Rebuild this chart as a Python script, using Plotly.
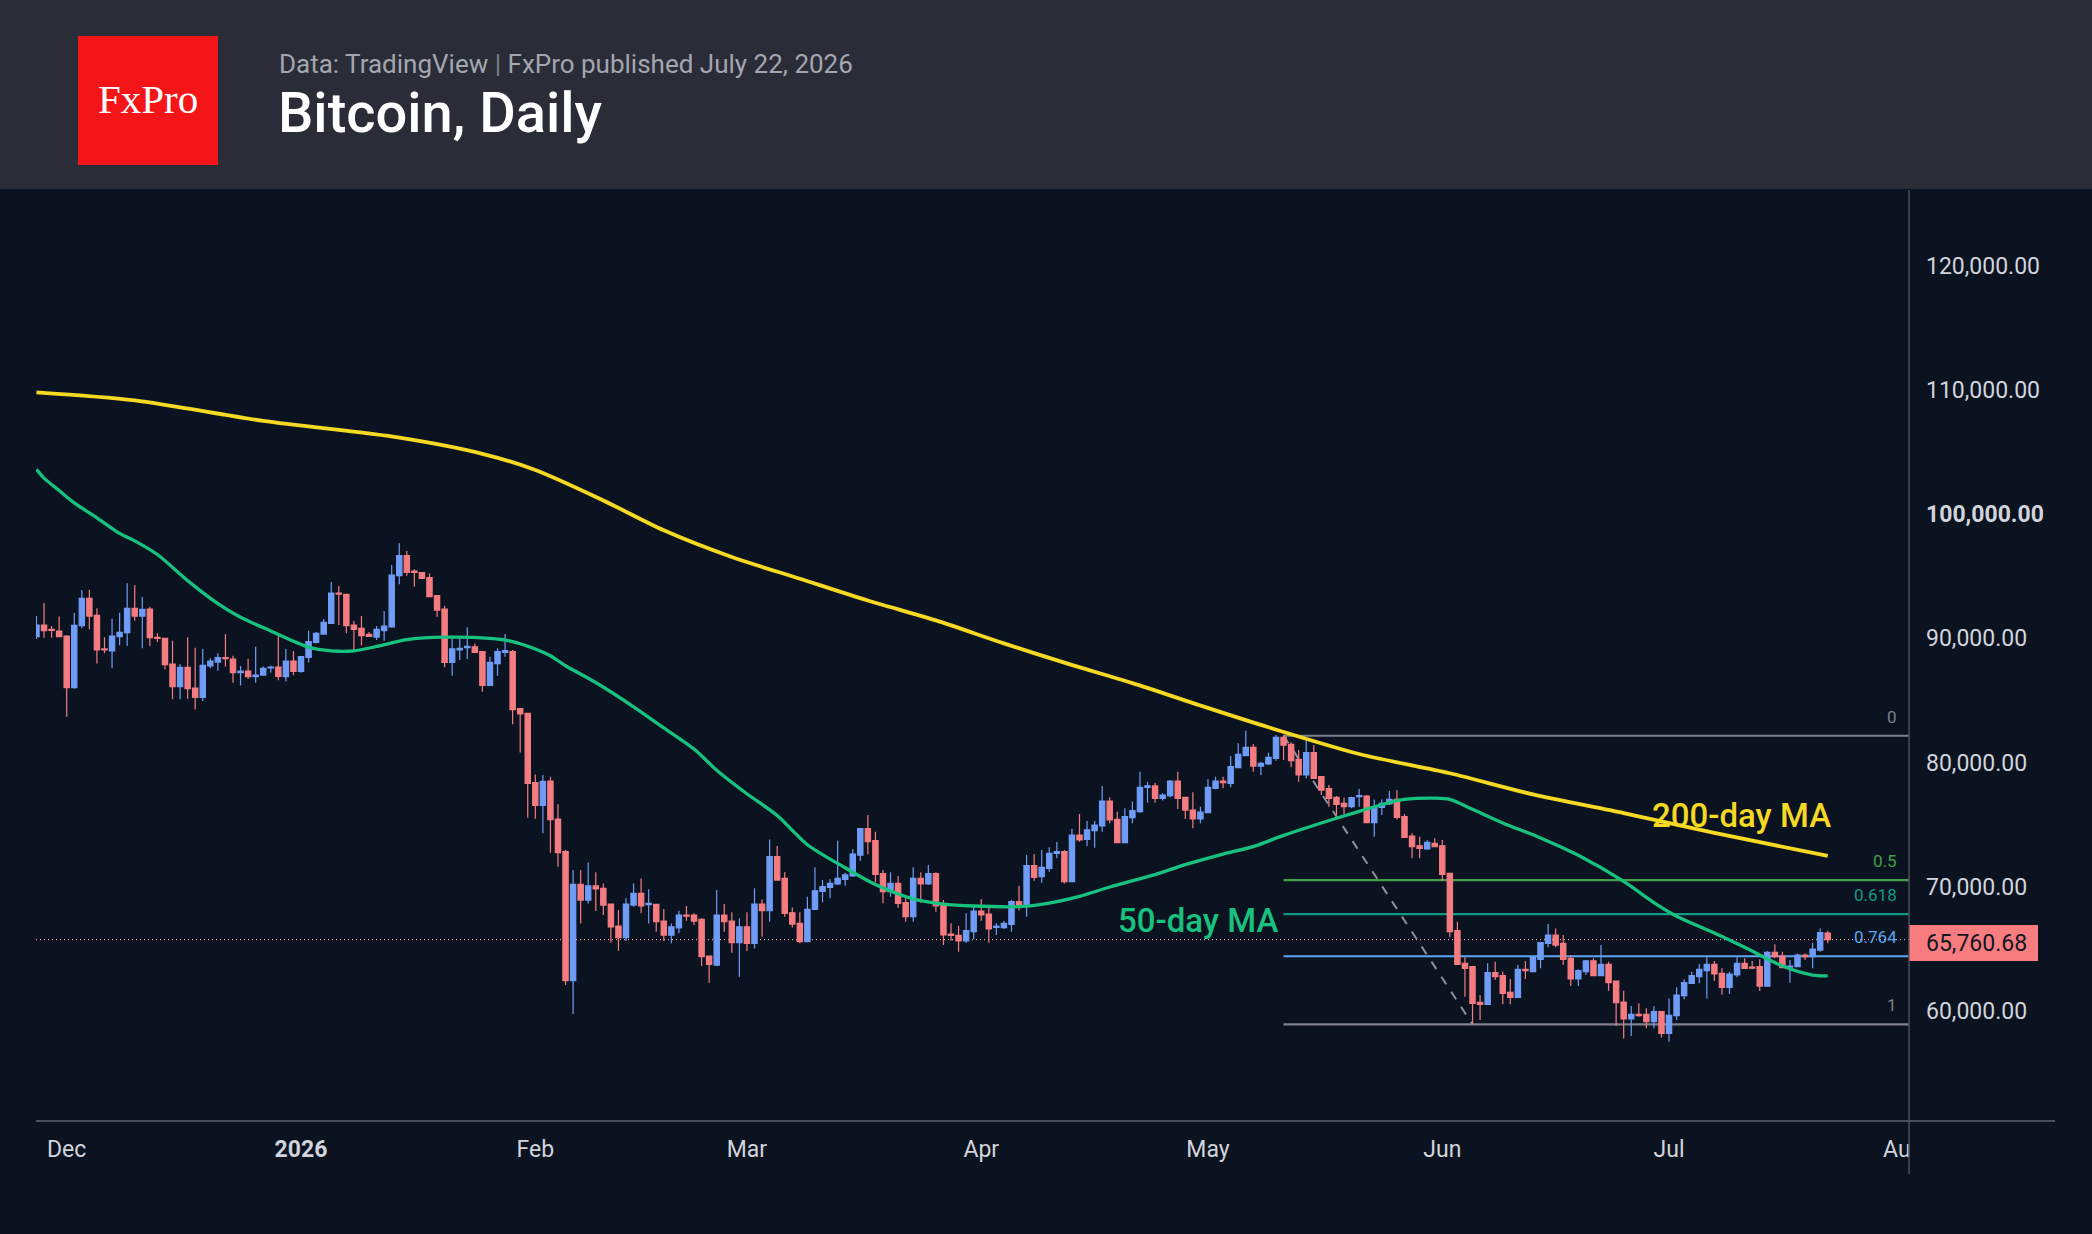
import plotly.graph_objects as go
import pandas as pd

# ---------------- data ----------------
first_day = "2025-11-27"

open_ = [
    90140, 91080, 90730, 90590, 90190, 86040, 91020, 93220, 91850, 89150,
    88990, 90140, 90460, 92420, 91800, 92360, 90090, 90000, 87940, 86120,
    87670, 86010, 85260, 87780, 88100, 88450, 88340, 87240, 87380, 86920,
    87050, 87620, 87700, 86920, 88180, 87350, 88480, 89680, 90350, 91210,
    93650, 93540, 91080, 90810, 90330, 90110, 90620, 90920, 95050, 96660,
    95420, 95290, 94890, 93440, 92360, 88070, 89070, 89250, 89330, 88930,
    86220, 87970, 88880, 88930, 84350, 83970, 78390, 76570, 78530, 75470,
    72840, 62460, 70210, 68950, 70100, 69890, 68630, 66860, 65920, 68550,
    69490, 68580, 68600, 67260, 66130, 66720, 67740, 67740, 67400, 64450,
    63720, 67740, 67260, 65520, 66800, 65470, 68630, 68090, 72440, 70700,
    67930, 67080, 65600, 68200, 69650, 69970, 70240, 70620, 70890, 72570,
    74690, 73730, 71070, 69620, 70290, 68740, 67610, 70700, 70240, 71070,
    68520, 66220, 66110, 65660, 66410, 68070, 67830, 66750, 66730, 67000,
    68820, 68550, 71720, 70830, 71500, 72710, 72840, 70430, 74180, 73830,
    74530, 74910, 76920, 75440, 73570, 75580, 76060, 78020, 78130, 77130,
    77350, 78530, 77210, 76190, 75470, 75980, 77940, 78530, 78340, 79600,
    80570, 81240, 79730, 79900, 80350, 82040, 81480, 80270, 79010, 80810,
    78880, 77910, 77210, 76730, 76460, 77270, 77320, 75180, 76410, 76680,
    77050, 75660, 74100, 73320, 73060, 73510, 73320, 71100, 66490, 63860,
    63590, 60720, 60560, 63110, 62870, 61530, 61120, 63380, 63190, 64180,
    65470, 66140, 65470, 64260, 62600, 63190, 64050, 62870, 63780, 62440,
    60750, 59380, 59760, 59760, 59170, 59970, 58230, 59650, 61260, 62250,
    62790, 63270, 63780, 63050, 61930, 62920, 63860, 63560, 63590, 62030,
    64740, 64450, 63560, 63590, 64530, 64400, 64930, 66300,
]
high = [
    91800, 92850, 91000, 91770, 90250, 92040, 93890, 93920, 92420, 90090,
    91590, 92070, 94430, 94300, 93330, 92550, 90410, 90060, 89820, 87940,
    90090, 89250, 89150, 88400, 88800, 90330, 88610, 87780, 88370, 89330,
    87730, 87830, 90190, 89150, 88990, 88580, 90620, 90510, 91560, 94540,
    94220, 93540, 91400, 91800, 90510, 91000, 92200, 95910, 97650, 97030,
    95560, 95340, 95230, 93440, 92630, 90190, 90090, 90890, 89600, 88930,
    88530, 89200, 90350, 89070, 84350, 83970, 79060, 79010, 78870, 76650,
    72970, 71360, 71360, 71980, 71180, 70290, 68630, 68150, 69090, 70290,
    70690, 69810, 68600, 68230, 67070, 68090, 68470, 67880, 67480, 64450,
    69760, 68630, 67960, 67480, 67960, 69890, 69000, 73830, 73300, 71180,
    68360, 67960, 69220, 71580, 70560, 70620, 73730, 71150, 73030, 74690,
    75790, 74450, 71370, 71180, 70880, 69330, 71580, 71180, 71770, 71180,
    68950, 67080, 66890, 67880, 68360, 69030, 68470, 67080, 67290, 68950,
    70110, 72570, 72650, 72980, 73190, 73620, 72980, 74690, 75870, 75310,
    75310, 78130, 77210, 76060, 76330, 76870, 79280, 78470, 78390, 77540,
    78610, 79280, 77210, 77620, 76460, 78660, 78880, 78880, 80540, 81560,
    82580, 81500, 80080, 80810, 82230, 82230, 81640, 81020, 81770, 81420,
    78930, 78210, 77320, 77190, 77270, 77880, 77400, 77050, 77050, 77750,
    77800, 75870, 74320, 74050, 73780, 73920, 73780, 71100, 67210, 64340,
    63590, 61310, 63860, 63990, 63190, 62600, 63720, 64050, 64340, 65520,
    67020, 66670, 66140, 64530, 63380, 64130, 64260, 65330, 63990, 62440,
    61660, 60430, 60640, 60240, 60430, 59970, 61040, 61930, 62570, 63190,
    63810, 64340, 64050, 63460, 63190, 64340, 64260, 64050, 64180, 64850,
    65390, 64800, 64130, 64660, 64660, 65520, 66670, 66490,
]
low = [
    89950, 90060, 90060, 90110, 83700, 85950, 90810, 90730, 87990, 88800,
    87590, 89440, 89390, 91430, 89200, 89390, 89710, 87510, 85100, 85100,
    85150, 84290, 84960, 87590, 87400, 87730, 86440, 86220, 86730, 86440,
    87000, 87240, 86630, 86540, 87030, 87240, 88070, 89600, 90300, 91210,
    91080, 90410, 89070, 89440, 90140, 89870, 89820, 90860, 94350, 95050,
    94160, 94780, 93360, 91750, 87670, 87000, 88260, 88340, 88820, 85710,
    86220, 87000, 88530, 83090, 80830, 75580, 75500, 74320, 72760, 71630,
    62110, 59780, 67070, 68680, 68070, 67740, 65520, 64870, 65650, 68410,
    67880, 67070, 66400, 65650, 65470, 66270, 67290, 66940, 63640, 62300,
    63640, 66400, 64710, 62780, 64850, 65060, 66000, 67210, 70560, 67610,
    66750, 65470, 65600, 68150, 68770, 69090, 70160, 70110, 70830, 72090,
    72630, 70380, 68690, 69220, 68340, 67210, 67210, 68740, 70160, 68010,
    65330, 65680, 64800, 65520, 65790, 67290, 65520, 66140, 66620, 66410,
    68100, 67610, 70510, 70350, 71230, 72310, 70290, 70430, 73650, 73300,
    73160, 74450, 75120, 73570, 73570, 75120, 75980, 76780, 76780, 76950,
    77210, 76270, 75470, 74720, 75120, 75980, 77860, 77940, 78020, 79600,
    80570, 79280, 79010, 79820, 80160, 80220, 79630, 78470, 78740, 78740,
    77400, 76460, 75790, 75870, 76330, 76460, 75120, 74050, 75790, 76600,
    75440, 74000, 72310, 72310, 72980, 73190, 70480, 65950, 63780, 61170,
    58950, 59300, 60500, 62520, 60560, 60560, 61120, 62600, 63190, 63460,
    65150, 65150, 63720, 62030, 62030, 62920, 62870, 62870, 61660, 58820,
    57820, 58010, 59570, 58630, 58630, 57900, 57560, 59300, 60960, 62200,
    62250, 61040, 62440, 61360, 61390, 62730, 63400, 63380, 61630, 61980,
    64260, 63460, 62300, 63590, 64130, 63460, 64800, 65470,
]
close = [
    91080, 90620, 90650, 90140, 86040, 91050, 93220, 91800, 89070, 89070,
    90190, 90490, 92420, 91800, 92340, 90060, 90000, 87890, 86120, 87670,
    85950, 85260, 87830, 88180, 88450, 88370, 87240, 87380, 86920, 87050,
    87590, 87700, 86950, 88180, 87350, 88530, 89740, 90410, 91290, 93650,
    93570, 91020, 90730, 90220, 90170, 90730, 91000, 95100, 96660, 95310,
    95310, 94830, 93360, 92280, 88070, 89150, 89200, 89360, 88880, 86220,
    88070, 88930, 89010, 84270, 83920, 78340, 76570, 78500, 75420, 72760,
    62460, 70210, 68950, 70100, 69840, 68550, 66800, 65920, 68630, 69490,
    68490, 68680, 67210, 66130, 66800, 67740, 67660, 67260, 64390, 63770,
    67740, 67210, 65520, 66800, 65470, 68630, 68090, 72440, 70560, 67880,
    67020, 65600, 68200, 69700, 70030, 70290, 70700, 70970, 72650, 74690,
    73650, 71020, 69620, 70290, 68690, 67610, 70700, 70240, 71070, 68470,
    66140, 66110, 65660, 66490, 68070, 67750, 66620, 66860, 67080, 68820,
    68500, 71720, 70780, 71580, 72710, 72840, 70430, 74180, 73780, 74590,
    74990, 76920, 75390, 73570, 75660, 76140, 78020, 78130, 77130, 77400,
    78530, 77130, 76190, 75470, 76030, 78020, 78530, 78390, 79680, 80670,
    81240, 79730, 79950, 80430, 82040, 81420, 80160, 79010, 80810, 78740,
    77800, 77130, 76650, 76460, 77190, 77350, 75180, 76460, 76730, 77050,
    75600, 74000, 73240, 73110, 73590, 73240, 71020, 66410, 63780, 63450,
    60640, 60560, 63110, 62790, 61440, 61120, 63380, 63270, 64340, 65520,
    66140, 65330, 64180, 62600, 63270, 64050, 62870, 63780, 62300, 60690,
    59380, 59760, 59650, 59170, 59970, 58230, 59670, 61310, 62300, 62870,
    63380, 63780, 63000, 61930, 63000, 63860, 63460, 63480, 62030, 64740,
    64400, 63510, 63640, 64530, 64400, 65010, 66330, 65760.68,
]

ma200_dates = [
    "2025-11-27", "2025-12-10", "2025-12-27", "2026-01-14", "2026-01-25",
    "2026-02-01", "2026-02-10", "2026-02-18", "2026-02-27", "2026-03-08",
    "2026-03-17", "2026-03-26", "2026-04-04", "2026-04-12", "2026-04-21",
    "2026-04-30", "2026-05-09", "2026-05-21", "2026-06-02", "2026-06-13",
    "2026-06-25", "2026-07-07", "2026-07-22",
]
ma200_values = [
    109800, 109150, 107500, 106150, 104850,
    103550, 101100, 98700, 96550, 94800,
    93050, 91450, 89600, 88050, 86400,
    84600, 82850, 80700, 79150, 77450,
    75950, 74350, 72500,
]

ma50_dates = [
    "2025-11-27", "2025-11-28", "2025-11-30", "2025-12-02", "2025-12-05",
    "2025-12-08", "2025-12-10", "2025-12-13", "2025-12-17", "2025-12-21",
    "2025-12-24", "2025-12-28", "2026-01-02", "2026-01-05", "2026-01-08",
    "2026-01-11", "2026-01-15", "2026-01-20", "2026-01-26", "2026-01-29",
    "2026-02-01", "2026-02-03", "2026-02-05", "2026-02-09", "2026-02-14",
    "2026-02-18", "2026-02-22", "2026-02-25", "2026-03-01", "2026-03-05",
    "2026-03-09", "2026-03-14", "2026-03-18", "2026-03-23", "2026-03-27",
    "2026-03-31", "2026-04-06", "2026-04-09", "2026-04-14", "2026-04-18",
    "2026-04-24", "2026-04-28", "2026-05-03", "2026-05-07", "2026-05-11",
    "2026-05-16", "2026-05-20", "2026-05-25", "2026-05-27", "2026-05-31",
    "2026-06-02", "2026-06-05", "2026-06-09", "2026-06-14", "2026-06-19",
    "2026-06-25", "2026-06-29", "2026-07-02", "2026-07-07", "2026-07-11",
    "2026-07-16", "2026-07-20", "2026-07-22",
]
ma50_values = [
    103600, 102900, 101900, 100900, 99700,
    98450, 97850, 96750, 94650, 92800,
    91700, 90600, 89300, 89000, 89000,
    89350, 89900, 90100, 90000, 89750,
    89150, 88600, 87800, 86450, 84500,
    82800, 81100, 79400, 77500, 75750,
    73400, 71550, 70200, 69050, 68630,
    68470, 68420, 68600, 69250, 70000,
    71000, 71800, 72650, 73250, 74150,
    75150, 75900, 76800, 77050, 77150,
    77050, 76250, 75150, 73950, 72550,
    70450, 68750, 67650, 66300, 65150,
    63650, 62920, 62850,
]

fib_levels = [0, 0.5, 0.618, 0.764, 1]
fib_labels = ["0", "0.5", "0.618", "0.764", "1"]
fib_colors = ["#7e818b", "#43a047", "#109a84", "#5da5f2", "#7e818b"]
fib_high = 82170
fib_low = 58950
fib_start = "2026-05-11"
fib_end_anchor = "2026-06-05"

last_price = 65760.68

month_ticks = ["2025-12-01", "2026-01-01", "2026-02-01", "2026-03-01", "2026-04-01",
               "2026-05-01", "2026-06-01", "2026-07-01", "2026-08-01"]
month_labels = ["Dec", "<b>2026</b>", "Feb", "Mar", "Apr", "May", "Jun", "Jul", "Aug"]

price_ticks = [60000, 70000, 80000, 90000, 100000, 110000, 120000]
price_labels = ["<b>{:,.2f}</b>".format(v) if v == 100000 else "{:,.2f}".format(v) for v in price_ticks]

# ---------------- layout geometry ----------------
W, H = 2092, 1234
LM, RM, TM, BM = 36, 183, 190, 113
PW = W - LM - RM
PH = H - TM - BM


def px(x):
    return (x - LM) / PW


def py(y):
    return (H - BM - y) / PH


BG = "#0c1320"
HEADER = "#2a2c38"
UP = "#6f9cf6"
DOWN = "#f47c80"
YELLOW = "#f5d922"
GREEN = "#16c27e"
AXIS_TXT = "#d1d4dc"
FONT = "Roboto"

dates = pd.date_range(first_day, periods=len(close), freq="D")
x_range = ["2025-11-26 22:30", "2026-08-01 18:00"]
y_range = [51175, 126075]

fig = go.Figure()

fig.add_trace(go.Candlestick(
    x=dates, open=open_, high=high, low=low, close=close,
    increasing=dict(line=dict(color=UP, width=1.2), fillcolor=UP),
    decreasing=dict(line=dict(color=DOWN, width=1.2), fillcolor=DOWN),
    whiskerwidth=0, showlegend=False, hoverinfo="skip",
))

fig.add_trace(go.Scatter(
    x=ma50_dates, y=ma50_values, mode="lines",
    line=dict(color=GREEN, width=3.3, shape="spline", smoothing=0.8),
    showlegend=False, hoverinfo="skip",
))
fig.add_trace(go.Scatter(
    x=ma200_dates, y=ma200_values, mode="lines",
    line=dict(color=YELLOW, width=3.8, shape="spline", smoothing=0.8),
    showlegend=False, hoverinfo="skip",
))

shapes = []
# header band
shapes.append(dict(type="rect", xref="paper", yref="paper", x0=px(0), x1=px(W),
                   y0=py(189), y1=py(0), fillcolor=HEADER, line_width=0, layer="below"))
# logo box
shapes.append(dict(type="rect", xref="paper", yref="paper", x0=px(78), x1=px(218),
                   y0=py(165), y1=py(36), fillcolor="#f41519", line_width=0, layer="below"))

# last price dotted line
shapes.append(dict(type="line", xref="paper", yref="y", x0=0, x1=1, y0=last_price, y1=last_price,
                   line=dict(color="#f79ea2", width=1.3, dash="1px,3px"), layer="below"))

# fib lines
for lvl, col in zip(fib_levels, fib_colors):
    v = fib_high - lvl * (fib_high - fib_low)
    shapes.append(dict(type="line", xref="x", yref="y", x0=fib_start, x1=x_range[1], y0=v, y1=v,
                       line=dict(color=col, width=2.2), layer="below"))
# fib trend (dashed)
shapes.append(dict(type="line", xref="x", yref="y", x0=fib_start, x1=fib_end_anchor,
                   y0=fib_high, y1=fib_low, line=dict(color="#8e919a", width=2, dash="dash"),
                   layer="below"))

# cover to clip the last month label at the price scale
shapes.append(dict(type="rect", xref="paper", yref="paper", x0=px(1910), x1=px(W),
                   y0=py(H), y1=py(1122.5), fillcolor=BG, line_width=0, layer="above"))
# axis lines
shapes.append(dict(type="line", xref="paper", yref="paper", x0=px(36), x1=px(2055),
                   y0=py(1121), y1=py(1121), line=dict(color="#4b4f5b", width=2.2), layer="above"))
shapes.append(dict(type="line", xref="paper", yref="paper", x0=px(1909), x1=px(1909),
                   y0=py(190), y1=py(1174), line=dict(color="#4b4f5b", width=1.5), layer="above"))
# last price tag
shapes.append(dict(type="rect", xref="paper", yref="paper", x0=px(1909.5), x1=px(2038),
                   y0=py(961), y1=py(925), fillcolor="#f77c80", line_width=0, layer="above"))

annotations = []
annotations.append(dict(xref="paper", yref="paper", x=px(148), y=py(99), text="FxPro",
                        showarrow=False, xanchor="center", yanchor="middle",
                        font=dict(family="Liberation Serif", size=41, color="#ffffff")))
annotations.append(dict(xref="paper", yref="paper", x=px(277), y=py(64),
                        text='Data: TradingView <span style="color:#7d808a">|</span> FxPro published July 22, 2026',
                        showarrow=False, xanchor="left", yanchor="middle",
                        font=dict(family=FONT, size=26, color="#a3a6af")))
annotations.append(dict(xref="paper", yref="paper", x=px(276), y=py(113), text="Bitcoin, Daily",
                        showarrow=False, xanchor="left", yanchor="middle",
                        font=dict(family=FONT, size=56, color="#ffffff", weight=500)))

annotations.append(dict(xref="paper", yref="paper", x=px(1741), y=py(815), text="200-day MA",
                        showarrow=False, xanchor="center", yanchor="middle",
                        font=dict(family=FONT, size=33, color=YELLOW, weight=500)))
annotations.append(dict(xref="paper", yref="paper", x=px(1198), y=py(920), text="50-day MA",
                        showarrow=False, xanchor="center", yanchor="middle",
                        font=dict(family=FONT, size=33, color=GREEN, weight=500)))

for lvl, lab, col in zip(fib_levels, fib_labels, fib_colors):
    v = fib_high - lvl * (fib_high - fib_low)
    annotations.append(dict(xref="paper", yref="y", x=px(1899), y=v, text=lab, showarrow=False,
                            xanchor="right", yanchor="bottom", yshift=7,
                            font=dict(family=FONT, size=17, color=col)))

annotations.append(dict(xref="paper", yref="paper", x=px(1924), y=py(943),
                        text="{:,.2f}".format(last_price), showarrow=False,
                        xanchor="left", yanchor="middle",
                        font=dict(family=FONT, size=23, color="#131722")))

fig.update_layout(
    width=W, height=H,
    margin=dict(l=LM, r=RM, t=TM, b=BM, pad=0),
    paper_bgcolor=BG, plot_bgcolor=BG,
    boxgap=0.3, boxgroupgap=0,
    showlegend=False,
    shapes=shapes, annotations=annotations,
    xaxis=dict(type="date", range=x_range, showgrid=False, zeroline=False, showline=False,
               rangeslider=dict(visible=False), tickmode="array", tickvals=month_ticks,
               ticktext=month_labels, ticks="", ticklabelstandoff=12,
               tickfont=dict(family=FONT, size=23, color=AXIS_TXT)),
    yaxis=dict(side="right", range=y_range, showgrid=False, zeroline=False, showline=False,
               tickmode="array", tickvals=price_ticks, ticktext=price_labels, ticks="",
               ticklabelstandoff=16, tickfont=dict(family=FONT, size=23, color=AXIS_TXT)),
)

fig.write_html("out.html")
